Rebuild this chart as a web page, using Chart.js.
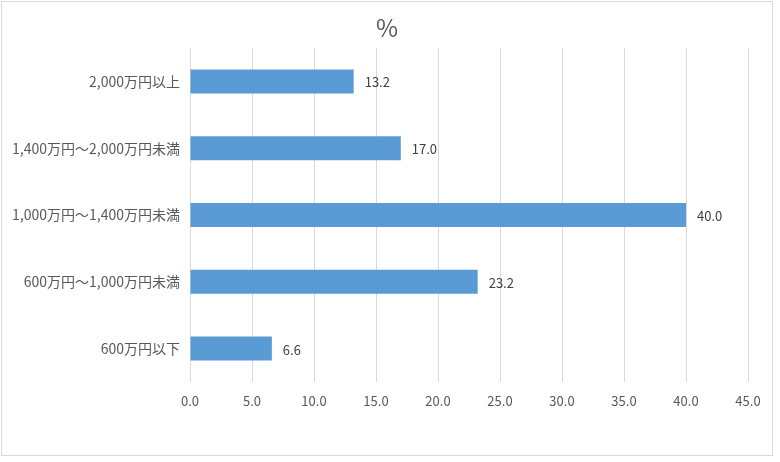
<!DOCTYPE html>
<html>
<head>
<meta charset="utf-8">
<script src="https://cdn.jsdelivr.net/npm/chart.js@4/dist/chart.umd.min.js"></script>
<style>
html,body{margin:0;padding:0;background:#fff;}
#wrap{position:relative;width:780px;height:462px;}
</style>
</head>
<body>
<div id="wrap"><canvas id="c" width="780" height="462"></canvas></div>
<script>
const categories = ["2,000万円以上", "1,400万円～2,000万円未満", "1,000万円～1,400万円未満", "600万円～1,000万円未満", "600万円以下"];
const values = [13.2, 17.0, 40.0, 23.2, 6.6];
const titleText = "%";
const xMin = 0, xMax = 45, xStep = 5;

const FONT = "'Noto Sans CJK JP', 'Noto Sans', sans-serif";

const borderPlugin = {
  id: 'outerBorder',
  beforeDraw(chart) {
    const ctx = chart.ctx;
    ctx.save();
    ctx.fillStyle = '#fff';
    ctx.fillRect(0, 0, chart.width, chart.height);
    ctx.strokeStyle = '#d9d9d9';
    ctx.lineWidth = 1;
    ctx.strokeRect(1.5, 1.5, 771, 454);
    ctx.font = '24px ' + FONT;
    ctx.fillStyle = '#595959';
    ctx.textAlign = 'center';
    ctx.textBaseline = 'middle';
    ctx.fillText(titleText, 387, 28);
    ctx.restore();
  }
};

const valueLabels = {
  id: 'valueLabels',
  afterDatasetsDraw(chart) {
    const ctx = chart.ctx;
    const meta = chart.getDatasetMeta(0);
    ctx.save();
    ctx.font = '13px ' + FONT;
    ctx.fillStyle = '#404040';
    ctx.textAlign = 'left';
    ctx.textBaseline = 'middle';
    meta.data.forEach((bar, i) => {
      ctx.fillText(values[i].toFixed(1), bar.x + 11, bar.y + 1);
    });
    ctx.restore();
  }
};

new Chart(document.getElementById('c'), {
  type: 'bar',
  data: {
    labels: categories,
    datasets: [{
      data: values,
      backgroundColor: '#5B9BD5',
      borderWidth: 0,
      barPercentage: 0.36,
      categoryPercentage: 1.0
    }]
  },
  options: {
    indexAxis: 'y',
    responsive: false,
    animation: false,
    layout: { padding: { left: 0, right: 32, top: 48, bottom: 0 } },
    plugins: {
      legend: { display: false },
      tooltip: { enabled: false },
      title: { display: false }
    },
    scales: {
      x: {
        min: xMin, max: xMax,
        ticks: {
          stepSize: xStep,
          color: '#595959',
          font: { family: FONT, size: 13 },
          padding: 11,
          callback: v => Number(v).toFixed(1)
        },
        grid: { color: '#d9d9d9', drawTicks: false, lineWidth: 1 },
        border: { display: false },
        afterFit: s => { s.height = 80; }
      },
      y: {
        ticks: {
          color: '#595959',
          font: { family: FONT, size: 14 },
          padding: 10
        },
        grid: { display: false, drawTicks: false },
        border: { display: false },
        afterFit: s => { s.width = 190; }
      }
    }
  },
  plugins: [borderPlugin, valueLabels]
});
</script>
</body>
</html>
